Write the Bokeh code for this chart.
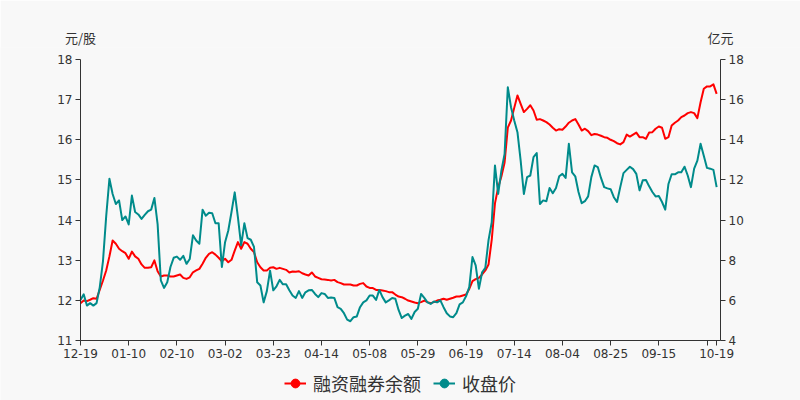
import numpy as np
from bokeh.plotting import figure
from bokeh.models import (Range1d, LinearAxis, FixedTicker, Legend, LegendItem)
from bokeh.embed import file_html
from bokeh.resources import INLINE

# ---- data ----
tick_index = [0, 15, 30, 45, 60, 75, 90, 105, 120, 135, 150, 165, 180, 195, 198]
tick_labels = ["12-19", "01-10", "02-10", "03-02", "03-23", "04-14", "05-08",
               "05-29", "06-19", "07-14", "08-04", "08-25", "09-15", "", "10-19"]

# 收盘价 (元/股, left axis)
close_price = [
    12.01, 12.15, 11.87, 11.93, 11.87, 11.93, 12.33, 12.98, 14.10, 15.03,
    14.65, 14.40, 14.49, 14.00, 14.09, 13.89, 14.61, 14.20, 14.14, 14.03,
    14.13, 14.22, 14.26, 14.55, 13.90, 12.50, 12.31, 12.45, 12.83, 13.06,
    13.09, 13.01, 13.11, 12.91, 13.03, 13.62, 13.49, 13.41, 14.26, 14.11,
    14.18, 14.17, 13.92, 13.92, 12.83, 13.45, 13.74, 14.20, 14.69, 14.07,
    13.37, 13.92, 13.55, 13.51, 13.33, 12.45, 12.37, 11.95, 12.23, 12.74,
    12.25, 12.35, 12.51, 12.40, 12.40, 12.25, 12.12, 12.06, 12.23, 12.06,
    12.20, 12.25, 12.26, 12.16, 12.08, 12.18, 12.16, 12.06, 12.07, 12.06,
    11.83, 11.79, 11.68, 11.52, 11.48, 11.58, 11.60, 11.83, 11.95, 12.00,
    12.12, 12.12, 12.01, 12.26, 12.08, 11.95, 12.00, 12.06, 12.04, 11.76,
    11.56, 11.62, 11.66, 11.54, 11.71, 11.79, 12.16, 12.06, 11.95, 11.91,
    11.97, 11.95, 12.00, 11.83, 11.68, 11.60, 11.58, 11.68, 11.90, 11.95,
    12.10, 12.33, 13.08, 12.87, 12.29, 12.70, 12.81, 13.50, 13.95, 15.36,
    14.65, 15.23, 15.65, 17.31, 16.81, 16.48, 16.19, 15.48, 14.65, 15.07,
    15.11, 15.57, 15.67, 14.40, 14.49, 14.47, 14.80, 14.67, 14.80, 15.09,
    15.15, 15.05, 15.90, 15.19, 15.09, 14.70, 14.42, 14.47, 14.59, 15.07,
    15.36, 15.32, 15.05, 14.82, 14.79, 14.77, 14.57, 14.45, 14.82, 15.17,
    15.25, 15.33, 15.27, 15.15, 14.74, 14.99, 15.00, 14.84, 14.70, 14.59,
    14.60, 14.45, 14.26, 14.90, 15.14, 15.14, 15.19, 15.19, 15.33, 15.11,
    14.82, 15.28, 15.48, 15.90, 15.60, 15.30, 15.28, 15.25, 14.82,
]

# 融资融券余额 (亿元, right axis)
margin_balance = [
    5.86, 5.99, 5.96, 6.03, 6.11, 6.08, 6.53, 6.99, 7.49, 8.19,
    8.98, 8.82, 8.57, 8.45, 8.35, 8.07, 8.43, 8.19, 8.07, 7.79,
    7.62, 7.62, 7.65, 7.99, 7.45, 7.19, 7.24, 7.24, 7.19, 7.19,
    7.24, 7.29, 7.12, 7.07, 7.15, 7.40, 7.49, 7.57, 7.82, 8.12,
    8.32, 8.40, 8.28, 8.12, 7.95, 8.07, 7.90, 8.02, 8.48, 8.90,
    8.57, 8.90, 8.82, 8.57, 8.40, 7.90, 7.65, 7.49, 7.49, 7.62,
    7.65, 7.57, 7.62, 7.57, 7.52, 7.39, 7.44, 7.42, 7.45, 7.35,
    7.29, 7.24, 7.39, 7.19, 7.12, 7.05, 7.04, 7.02, 6.99, 7.02,
    6.91, 6.86, 6.79, 6.79, 6.79, 6.74, 6.74, 6.82, 6.86, 6.69,
    6.62, 6.61, 6.52, 6.52, 6.49, 6.46, 6.41, 6.41, 6.29, 6.19,
    6.16, 6.08, 5.99, 5.94, 5.89, 5.86, 5.91, 5.99, 5.91, 5.86,
    5.91, 5.99, 6.03, 6.08, 6.03, 6.08, 6.13, 6.19, 6.19, 6.24,
    6.29, 6.57, 6.96, 7.06, 7.12, 7.29, 7.49, 7.79, 9.03, 10.83,
    11.62, 12.17, 12.87, 14.61, 14.96, 15.59, 16.21, 15.79, 15.38, 15.54,
    15.72, 15.46, 15.00, 15.03, 14.96, 14.88, 14.76, 14.60, 14.46, 14.53,
    14.50, 14.66, 14.85, 14.96, 15.03, 14.76, 14.46, 14.55, 14.43, 14.23,
    14.29, 14.26, 14.20, 14.13, 14.10, 14.00, 13.93, 13.83, 13.77, 13.88,
    14.26, 14.16, 14.26, 14.36, 14.13, 14.13, 14.05, 14.36, 14.38, 14.55,
    14.66, 14.60, 14.05, 14.13, 14.71, 14.85, 14.96, 15.13, 15.21, 15.33,
    15.38, 15.33, 15.08, 15.87, 16.54, 16.66, 16.66, 16.76, 16.29,
]

left_ticks = [11, 12, 13, 14, 15, 16, 17, 18]
right_ticks = [4, 6, 8, 10, 12, 14, 16, 18]
axis_names = {0: "元/股", 1: "亿元"}

RED = "#ff0000"
TEAL = "#008b8b"
BG = "#f8f8f8"
TXT = "#333333"
NUM_FONT = "DejaVu Sans"
CJK_FONT = "Noto Sans CJK SC"

# layout: value area 640x281 px; the frame also covers the side margins
# (80 px each), a 12 px strip on top and a 60 px legend strip below,
# so that no tick label or legend text gets clipped.
PLOT_W, PLOT_H = 640, 281
SIDE, STRIP, TOPPAD = 80, 60, 12
X_MIN, X_MAX = 0, 199.2
L_MIN, L_MAX = 11, 18
R_MIN, R_MAX = 4, 18
xpad = SIDE * (X_MAX - X_MIN) / PLOT_W
l_start = L_MIN - STRIP * (L_MAX - L_MIN) / PLOT_H
l_end = L_MAX + TOPPAD * (L_MAX - L_MIN) / PLOT_H
r_start = R_MIN - STRIP * (R_MAX - R_MIN) / PLOT_H
r_end = R_MAX + TOPPAD * (R_MAX - R_MIN) / PLOT_H
npad = SIDE / PLOT_W

x = list(range(len(close_price)))
xr = list(range(len(margin_balance)))

p = figure(frame_width=PLOT_W + 2 * SIDE,
           frame_height=PLOT_H + STRIP + TOPPAD,
           output_backend="svg", toolbar_location=None,
           x_range=Range1d(X_MIN - xpad, X_MAX + xpad),
           y_range=Range1d(l_start, l_end),
           min_border_left=0, min_border_right=0,
           min_border_top=59 - TOPPAD, min_border_bottom=0,
           background_fill_color=BG, border_fill_color=BG,
           outline_line_color=None)
p.extra_y_ranges = {"right": Range1d(r_start, r_end)}
p.extra_x_ranges = {"names": Range1d(-npad, 1 + npad)}
p.xgrid.visible = False
p.ygrid.visible = False


def style_axis(ax, standoff=3):
    ax.axis_line_color = TXT
    ax.axis_line_width = 1
    ax.major_tick_line_color = TXT
    ax.minor_tick_line_color = None
    ax.major_tick_out = 5
    ax.major_tick_in = 0
    ax.major_label_text_font = NUM_FONT
    ax.major_label_text_font_size = "12px"
    ax.major_label_text_color = TXT
    ax.major_label_standoff = standoff


p.yaxis.ticker = FixedTicker(ticks=left_ticks)
p.yaxis.bounds = (L_MIN, L_MAX)
p.yaxis.fixed_location = X_MIN
style_axis(p.yaxis[0])

p.xaxis.ticker = FixedTicker(ticks=tick_index)
p.xaxis.major_label_overrides = {i: s for i, s in zip(tick_index, tick_labels)}
p.xaxis.fixed_location = L_MIN
p.xaxis.bounds = (X_MIN, X_MAX)
style_axis(p.xaxis[0])

ry = LinearAxis(y_range_name="right", ticker=FixedTicker(ticks=right_ticks),
                bounds=(R_MIN, R_MAX), fixed_location=X_MAX)
style_axis(ry)
p.add_layout(ry, "right")

# axis names above the two value axes
name_axis = LinearAxis(x_range_name="names", ticker=FixedTicker(ticks=[0, 1]),
                       major_label_overrides=axis_names)
name_axis.axis_line_color = None
name_axis.major_tick_line_color = None
name_axis.minor_tick_line_color = None
name_axis.major_tick_out = 0
name_axis.major_tick_in = 0
name_axis.major_label_standoff = 13 - TOPPAD
name_axis.major_label_text_font = CJK_FONT
name_axis.major_label_text_font_size = "13px"
name_axis.major_label_text_color = TXT
p.add_layout(name_axis, "above")

red_line = p.line(xr, margin_balance, y_range_name="right", line_color=RED,
                  line_width=2, line_join="round")
teal_line = p.line(x, close_price, line_color=TEAL, line_width=2,
                   line_join="round")
red_dot = p.scatter([np.nan], [np.nan], y_range_name="right", size=10,
                    fill_color=RED, line_color=RED)
teal_dot = p.scatter([np.nan], [np.nan], size=10, fill_color=TEAL,
                     line_color=TEAL)

legend = Legend(items=[
    LegendItem(label="融资融券余额", renderers=[red_line, red_dot]),
    LegendItem(label="收盘价", renderers=[teal_line, teal_dot]),
], orientation="horizontal", location="bottom_center", padding=0, margin=4,
    spacing=12, glyph_width=22, glyph_height=24, label_standoff=7,
    label_height=24,
    label_text_font=CJK_FONT, label_text_font_size="18px",
    label_text_color=TXT, background_fill_alpha=0, border_line_color=None)
p.add_layout(legend, "center")

open("out.html", "w").write(file_html(p, INLINE))
